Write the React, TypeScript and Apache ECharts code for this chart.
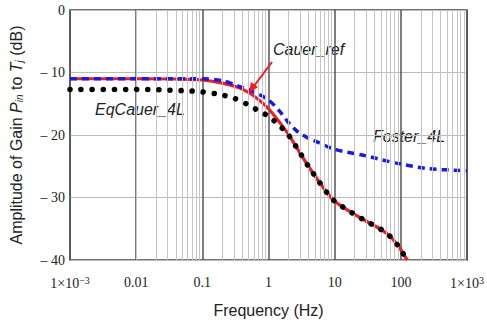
import React, { useEffect, useRef } from "react";
import * as echarts from "echarts";

// Frequency (Hz) / amplitude (dB)
const cauerRefFreq = [0.001, 0.01, 0.05, 0.1, 0.2, 0.35, 0.5, 0.7, 1, 1.5, 2, 3, 4, 6, 8, 10, 15, 20, 30, 50, 70, 95, 110, 125];
const cauerRefDb = [-11, -11, -11.05, -11.2, -11.7, -12.4, -13.2, -14.3, -15.8, -18.1, -19.9, -22.9, -25, -27.7, -29.5, -30.6, -31.9, -32.7, -33.8, -35.1, -36.3, -38, -39.1, -40];

const fosterFreq = [0.001, 0.01, 0.1, 0.2, 0.38, 0.6, 1, 1.5, 2, 2.7, 4, 5.4, 10, 26, 85, 270, 1000];
const fosterDb = [-11, -11, -11, -11.3, -12.3, -13.1, -14.4, -16.3, -18, -19.4, -20.5, -21.1, -22.3, -23.2, -24.5, -25.4, -25.7];

const eqCauerFreq = [0.001, 0.01, 0.05, 0.1, 0.2, 0.3, 0.5, 0.7, 1, 1.5, 2, 3, 4, 6, 8, 10, 15, 20, 30, 50, 70, 95, 110, 125];
const eqCauerDb = [-12.7, -12.7, -12.9, -13.1, -13.6, -14.1, -15.2, -16.1, -17, -18.6, -20, -22.9, -25, -27.7, -29.5, -30.6, -31.9, -32.7, -33.8, -35.1, -36.3, -38, -39.1, -40];

const xTickLabels = ["1×10{sup|−3}", "0.01", "0.1", "1", "10", "100", "1×10{sup|3}"];
const yTickLabels: Record<string, string> = { "0": "0", "-10": "– 10", "-20": "– 20", "-30": "– 30", "-40": "– 40" };
const minorFreqs = [2, 3, 4, 5, 6, 7, 8, 9];
const decades = [0.001, 0.01, 0.1, 1, 10, 100];

const zip = (xs: number[], ys: number[]) => xs.map((x, i) => [x, ys[i]]);

export default function App() {
  const ref = useRef<HTMLDivElement>(null);
  useEffect(() => {
    if (!ref.current) return;
    const chart = echarts.init(ref.current, null, { renderer: "svg" });
    const minorLines: any[] = [];
    decades.forEach((d) => minorFreqs.forEach((m) => minorLines.push({ xAxis: d * m })));
    const serif = "Liberation Serif";
    const sans = "Liberation Sans";
    chart.setOption({
      animation: false,
      backgroundColor: "#fff",
      grid: { left: 68, top: 10, right: 19, bottom: 67, show: true, borderColor: "#444", borderWidth: 1.5, backgroundColor: "transparent" },
      xAxis: {
        type: "log",
        logBase: 10,
        min: 0.001,
        max: 1000,
        interval: 1,
        axisLine: { show: false },
        axisTick: { show: false },
        splitLine: { show: true, lineStyle: { color: "#555", width: 1.5 } },
        axisLabel: {
          margin: 15,
          fontFamily: serif,
          fontSize: 14,
          color: "#222",
          showMinLabel: true,
          showMaxLabel: true,
          formatter: (v: number) => xTickLabels[Math.round(Math.log10(v)) + 3] ?? "",
          rich: { sup: { fontFamily: serif, fontSize: 10, color: "#222", verticalAlign: "top", padding: [0, 0, 7, 0] } },
        },
        name: "Frequency (Hz)",
        nameLocation: "middle",
        nameGap: 42,
        nameTextStyle: { fontFamily: sans, fontSize: 16, color: "#222" },
      },
      yAxis: {
        type: "value",
        min: -40,
        max: 0,
        interval: 10,
        axisLine: { show: false },
        axisTick: { show: false },
        splitLine: { show: true, lineStyle: { color: "#bbb", width: 1 } },
        axisLabel: {
          margin: 5,
          fontFamily: serif,
          fontSize: 14,
          color: "#222",
          formatter: (v: number) => yTickLabels[String(v)] ?? String(v),
        },
        name: "Amplitude of Gain {i|P}{sub|in} to {i|T}{sub|j} (dB)",
        nameLocation: "middle",
        nameGap: 46,
        nameTextStyle: {
          fontFamily: sans,
          fontSize: 16,
          color: "#222",
          rich: {
            i: { fontFamily: sans, fontSize: 16, fontStyle: "italic", color: "#222" },
            sub: { fontFamily: sans, fontSize: 10, fontStyle: "italic", color: "#222", verticalAlign: "bottom", padding: [6, 0, 0, 0] },
          },
        },
      },
      series: [
        {
          type: "line",
          data: [],
          z: 1,
          silent: true,
          markLine: {
            silent: true,
            symbol: "none",
            label: { show: false },
            lineStyle: { color: "#c4c4c4", width: 1, type: "solid" },
            data: minorLines,
          },
        },
        {
          name: "Cauer_ref",
          type: "line",
          z: 3,
          data: zip(cauerRefFreq, cauerRefDb),
          smooth: 0.3,
          showSymbol: false,
          lineStyle: { color: "#ee1c24", width: 3.2 },
        },
        {
          name: "Foster_4L",
          type: "line",
          z: 4,
          data: zip(fosterFreq, fosterDb),
          smooth: 0.3,
          showSymbol: false,
          lineStyle: { color: "#1a1ae6", width: 3.5, type: [7, 5] },
        },
        {
          name: "EqCauer_4L",
          type: "line",
          z: 5,
          data: zip(eqCauerFreq, eqCauerDb),
          smooth: 0.3,
          showSymbol: false,
          lineStyle: { color: "#000", width: 5.5, type: [0.1, 11], cap: "round" },
        },
      ],
      graphic: [
        { type: "text", x: 273, y: 41, style: { text: "Cauer_ref", fontFamily: sans, fontSize: 16, fontStyle: "italic", fill: "#222" } },
        { type: "text", x: 95, y: 101, style: { text: "EqCauer_4L", fontFamily: sans, fontSize: 16, fontStyle: "italic", fill: "#222" } },
        { type: "text", x: 373, y: 128, style: { text: "Foster_4L", fontFamily: sans, fontSize: 16, fontStyle: "italic", fill: "#222" } },
        { type: "line", shape: { x1: 272, y1: 62, x2: 254, y2: 86 }, style: { stroke: "#ee1c24", lineWidth: 2 }, z: 10 },
        { type: "polygon", shape: { points: [[249, 93], [251, 82], [258, 87]] }, style: { fill: "#ee1c24" }, z: 10 },
      ],
    });
    return () => chart.dispose();
  }, []);
  return <div ref={ref} style={{ position: "absolute", left: 0, top: 0, width: 487, height: 327, background: "#fff" }} />;
}
